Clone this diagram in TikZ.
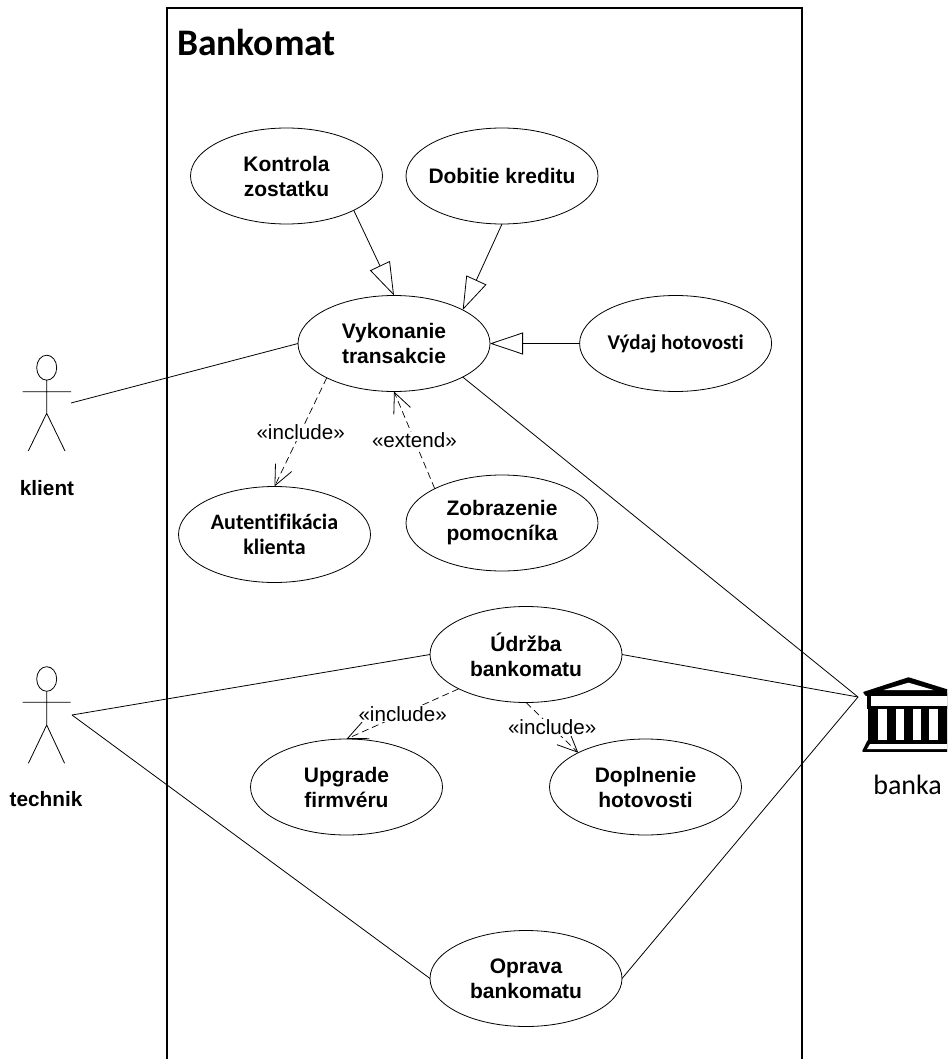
\documentclass[tikz,border=0pt]{standalone}
\usepackage{fontspec}
\setmainfont{Liberation Sans}
\newfontfamily\calfont[Ligatures=NoCommon]{Carlito}
\usetikzlibrary{arrows.meta,shapes.geometric}
\tikzset{
  uc/.style={draw,ellipse,line width=0.8pt,fill=white,minimum width=192pt,minimum height=96pt,inner sep=0pt,outer sep=0pt,align=center,font=\fontsize{21}{25}\selectfont\bfseries},
  uccal/.style={uc,font=\fontsize{21}{25}\selectfont\calfont\bfseries},
  assoc/.style={line width=0.8pt},
  gener/.style={line width=0.8pt,-{Triangle[open,fill=white,length=33pt,width=22pt,line width=0.8pt]}},
  dep/.style={line width=0.7pt,dash pattern=on 7pt off 4pt,-{Straight Barb[length=20pt,width=18pt,line width=0.8pt]}},
  deplabel/.style={fill=white,inner sep=1pt,font=\fontsize{20.6}{24}\selectfont},
  actorlabel/.style={font=\fontsize{20.8}{25}\selectfont\bfseries},
  stick/.style={line width=0.8pt}
}
\begin{document}
\begin{tikzpicture}[x=1pt,y=-1pt]
\useasboundingbox (0,0) rectangle (947,1059);
\clip (0,0) rectangle (947,1059);
\fill[white] (0,0) rectangle (947,1059);
% system box
\draw[line width=1.6pt] (167,1070) -- (167,8) -- (802,8) -- (802,1070);
\node[anchor=center,font=\fontsize{37.5}{40}\selectfont\calfont\bfseries] (title) at (256.5,42) {Bankomat};
% use cases
\node[uc] (kontrola) at (286.5,176) {Kontrola\\zostatku};
\node[uc] (dobitie) at (502,176) {\makebox[100pt][c]{Dobitie kreditu}};
\node[uc] (vykon) at (394,343.5) {Vykonanie\\transakcie};
\node[uccal] (vydaj) at (675.6,343.5) {\makebox[100pt][c]{Výdaj hotovosti}};
\node[uccal,font=\fontsize{22}{25}\selectfont\calfont\bfseries] (auth) at (274.5,534.5) {Autentifikácia\\klienta};
\node[uc] (pomoc) at (502,523) {Zobrazenie\\pomocníka};
\node[uc] (udrzba) at (526,654.5) {Údržba\\bankomatu};
\node[uc] (upgrade) at (346.5,787) {Upgrade\\firmvéru};
\node[uc] (doplnenie) at (645.5,787) {Doplnenie\\hotovosti};
\node[uc] (oprava) at (526,978.5) {Oprava\\bankomatu};
% actor anchors
\coordinate (klientend) at (71,403);
\coordinate (technikend) at (72,715);
\coordinate (bankend) at (858,697);
% generalisation
\draw[gener] (kontrola.-27) -- (vykon.90);
\draw[gener] (dobitie.-90) -- (vykon.26.6);
\draw[gener] (vydaj.180) -- (vykon.0);
% associations
\draw[assoc] (vykon.180) -- (klientend);
\draw[assoc] (vykon.-26.6) -- (bankend);
\draw[assoc] (udrzba.0) -- (bankend);
\draw[assoc] (udrzba.180) -- (technikend);
\draw[assoc] (oprava.180) -- (technikend);
\draw[assoc] (oprava.0) -- (bankend);
% dependencies
\draw[dep] (vykon.207) -- (auth.90) node[deplabel,pos=0.5] (l1) {«include»};
\draw[dep] (pomoc.153.2) -- (vykon.-90) node[deplabel,pos=0.5] (l2) {«extend»};
\draw[dep] (udrzba.207) -- (upgrade.90) node[deplabel,pos=0.5] (l3) {«include»};
\draw[dep] (udrzba.-90) -- (doplnenie.153) node[deplabel,pos=0.5] (l4) {«include»};
% klient
\draw[stick] (46.7,367.7) ellipse [x radius=10,y radius=12.5];
\draw[stick] (46.7,380.2) -- (46.7,413.3) (22.7,391.7) -- (71,391.7) (28.3,451) -- (46.7,413.3) -- (65,451);
\node[actorlabel] (klient) at (47,488) {klient};
% technik
\draw[stick] (46.7,679) ellipse [x radius=10,y radius=12.3];
\draw[stick] (46.7,691.3) -- (46.7,725) (22.5,702.3) -- (70.7,702.3) (28.4,763.3) -- (46.7,725) -- (64.6,763.3);
\node[actorlabel] (technik) at (46,799) {technik};
% bank icon
\fill[line join=round,draw,line width=1.5pt] (908.5,678) -- (864,692.5) -- (866,695) -- (953,695) -- (955,692.5) -- cycle;
\fill (867,692) rectangle (950,709);
\fill (868,705) rectangle (949,741);
\fill[white] (883.5,690) -- (908.5,682.7) -- (933.5,690) -- cycle;
\fill[white] (870.7,695.7) rectangle (947,705.7);
\foreach \a in {878.3,895.7,912.7,929.3}{\fill[white] (\a,709.3) rectangle (\a+8.4,740);}
\fill[line join=round,draw,line width=1.5pt] (868,741) -- (949,741) -- (954,751) -- (863,751) -- cycle;
\fill[white] (870,744) -- (947,744) -- (950,749) -- (867,749) -- cycle;
\node[font=\fontsize{28}{32}\selectfont\calfont] (banka) at (907.6,785) {banka};
\end{tikzpicture}
\end{document}
